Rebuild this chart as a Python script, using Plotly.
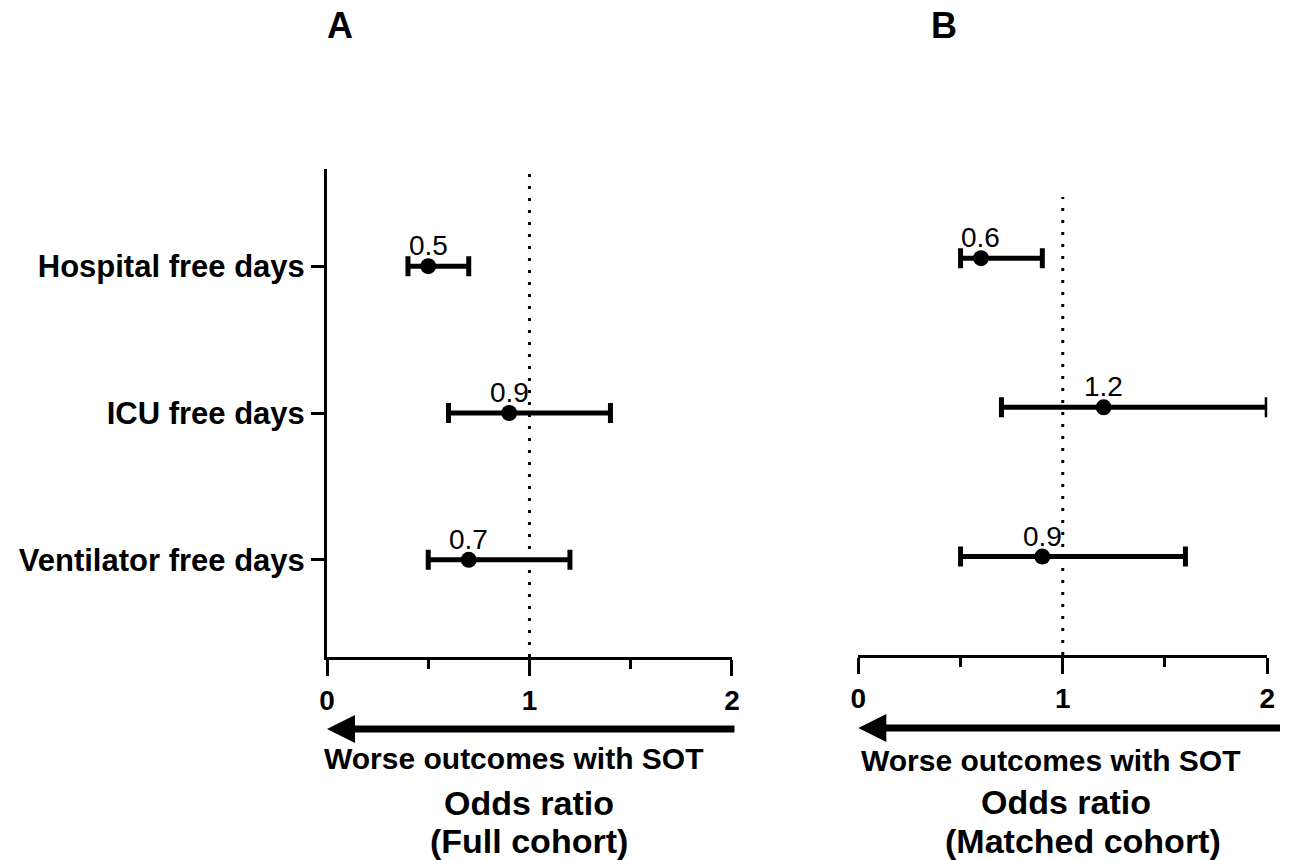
import plotly.graph_objects as go

W, H = 1292, 860

outcomes = ["Hospital free days", "ICU free days", "Ventilator free days"]

# Panel A: full cohort
or_full = [0.5, 0.9, 0.7]
lo_full = [0.4, 0.6, 0.5]
hi_full = [0.7, 1.4, 1.2]

# Panel B: matched cohort
or_matched = [0.6, 1.2, 0.9]
lo_matched = [0.5, 0.7, 0.5]
hi_matched = [0.9, 2.0, 1.6]

x_ticks = [0, 1, 2]
arrow_label = "Worse outcomes with SOT"

FONT = "Liberation Sans, Arial, Helvetica, sans-serif"

def px_x(p):
    return p / W

def px_y(p):
    return 1 - p / H

fig = go.Figure()

def add_panel(vals, lo, hi, xa, ya):
    fig.add_trace(go.Scatter(
        x=vals, y=outcomes, xaxis=xa, yaxis=ya,
        mode="markers",
        marker=dict(size=16, color="black"),
        error_x=dict(type="data", symmetric=False,
                     array=[h - v for h, v in zip(hi, vals)],
                     arrayminus=[v - l for v, l in zip(vals, lo)],
                     thickness=5, width=10, color="black"),
        cliponaxis=False, showlegend=False, hoverinfo="skip",
    ))
    for v, cat in zip(vals, outcomes):
        fig.add_annotation(x=v, y=cat, xref=xa, yref=ya, text=f"{v:.1f}",
                           showarrow=False, xanchor="center", yanchor="bottom",
                           yshift=3,
                           font=dict(family=FONT, size=28, color="black"))

add_panel(or_full, lo_full, hi_full, "x", "y")
add_panel(or_matched, lo_matched, hi_matched, "x2", "y2")

xcommon = dict(range=[0, 2], tickvals=x_ticks, ticktext=[str(t) for t in x_ticks],
               showgrid=False, zeroline=False, showline=True, linewidth=3, linecolor="black",
               ticks="outside", ticklen=16, tickwidth=3, tickcolor="black",
               tickfont=dict(family=FONT, size=28, color="black", weight="bold"),
               minor=dict(dtick=0.5, ticks="outside", ticklen=9, tickwidth=3, tickcolor="black"),
               fixedrange=True)

fig.update_layout(
    width=W, height=H,
    margin=dict(l=0, r=0, t=0, b=0),
    paper_bgcolor="white", plot_bgcolor="white",
    xaxis=dict(domain=[px_x(323), px_x(733)], anchor="y", **xcommon),
    yaxis=dict(domain=[px_y(657), px_y(169)], anchor="x",
               type="category", categoryarray=outcomes,
               range=[2.662, -0.662], showgrid=False, zeroline=False,
               showline=True, linewidth=3, linecolor="black",
               ticks="outside", ticklen=13, tickwidth=3, tickcolor="black",
               tickfont=dict(family=FONT, size=31, color="black", weight="bold"),
               fixedrange=True),
    xaxis2=dict(domain=[px_x(861), px_x(1275)], anchor="y2", **xcommon),
    yaxis2=dict(domain=[px_y(655), px_y(197)], anchor="x2",
                type="category", categoryarray=outcomes,
                range=[2.66, -0.41], showgrid=False, zeroline=False,
                showline=False, showticklabels=False, ticks="",
                fixedrange=True),
)

# reference lines at OR = 1
for xr, yr in [("x", "y domain"), ("x2", "y2 domain")]:
    fig.add_shape(type="line", xref=xr, yref=yr, x0=1, x1=1, y0=0, y1=1,
                  line=dict(color="black", width=3, dash="3px,9px"), layer="below")

# arrows
for xr, tail, yp in [("x", 2.02, 729), ("x2", 2.07, 728)]:
    fig.add_annotation(x=0, y=px_y(yp), xref=xr, yref="paper",
                       ax=tail, ay=0, axref=xr, ayref="pixel",
                       text="", showarrow=True, arrowhead=2, arrowsize=0.8,
                       arrowwidth=7, arrowcolor="black", standoff=0)

# text labels
labels = [
    (arrow_label, 512, 758, 30),
    (arrow_label, 1056, 760, 30),
    ("Odds ratio", 528, 803, 34),
    ("(Full cohort)", 528, 841, 34),
    ("Odds ratio", 1071, 802, 34),
    ("(Matched cohort)", 1088, 841, 34),
    ("A", 336, 25, 36),
    ("B", 948, 25, 36),
]
for txt, xp, yp, sz in labels:
    fig.add_annotation(x=px_x(xp), y=px_y(yp), xref="paper", yref="paper",
                       text=txt, showarrow=False, xanchor="center", yanchor="middle",
                       font=dict(family=FONT, size=sz, color="black", weight="bold"))

fig.write_html("out.html",
               config={"displayModeBar": False, "staticPlot": True},
               post_script="document.body.style.margin='0';document.body.style.overflow='hidden';")
